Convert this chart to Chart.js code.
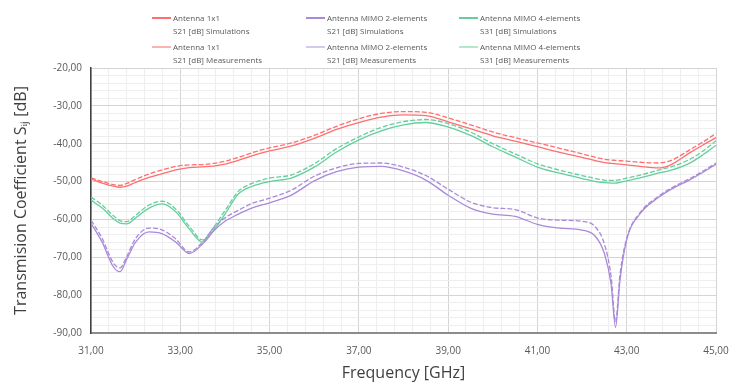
<!DOCTYPE html>
<html>
<head>
<meta charset="utf-8">
<script src="https://cdn.jsdelivr.net/npm/chart.js@4/dist/chart.umd.min.js"></script>
<style>
  body { margin: 0; background: #fff; }
  #wrap { position: relative; width: 731px; height: 383px; }
  #chart { position: absolute; left: 0; top: 0; }
  .leg { position: absolute; font: 8px "Open Sans", sans-serif; color: #595959; line-height: 12.5px; white-space: nowrap; }
  .leg .ln { position: absolute; left: -21px; top: 5px; width: 19px; height: 2px; }
</style>
</head>
<body>
<div id="wrap">
  <canvas id="chart" width="731" height="383"></canvas>
</div>
<script>
// frequency points (GHz)
var freq = [31.0, 31.25, 31.5, 31.65, 31.8, 32.0, 32.3, 32.6, 32.9, 33.2, 33.5, 33.75, 34.0, 34.3, 34.6,
    35.0, 35.5, 36.0, 36.5, 37.0, 37.5, 38.0, 38.5, 39.0, 39.5, 40.0, 40.5, 41.0, 41.5, 42.0,
    42.3, 42.5, 42.65, 42.75, 42.85, 43.0, 43.3, 43.7, 44.0, 44.4, 44.7, 45.0];

// Antenna 1x1 - S21 [dB]
var s21x1Sim = [-49.3, -50.4, -51.2, -51.5, -51.2, -50.2, -48.9, -47.9, -46.9, -46.3, -46.1, -45.9, -45.4, -44.4, -43.2,
    -41.9, -40.6, -38.6, -36.2, -34.4, -33.0, -32.4, -32.6, -34.2, -36.0, -37.9, -39.3, -40.8, -42.3, -43.6,
    -44.5, -45.0, -45.2, -45.3, -45.4, -45.6, -46.0, -46.4, -45.5, -42.5, -40.4, -38.4];
var s21x1Meas = [-49.0, -50.0, -50.8, -51.0, -50.5, -49.4, -48.0, -46.9, -46.0, -45.6, -45.5, -45.2, -44.6, -43.6, -42.4,
    -41.1, -39.8, -37.8, -35.4, -33.4, -32.0, -31.5, -31.7, -33.2, -35.0, -36.9, -38.4, -39.8, -41.2, -42.7,
    -43.6, -44.1, -44.3, -44.4, -44.5, -44.6, -44.9, -45.1, -44.4, -41.7, -39.6, -37.3];

// Antenna MIMO 2-elements - S21 [dB]
var s21m2Sim = [-61.0, -66.0, -72.5, -73.8, -70.5, -66.0, -63.3, -63.8, -66.0, -69.0, -66.5, -63.0, -60.5, -58.6, -57.0,
    -55.6, -53.5, -49.8, -47.4, -46.2, -46.0, -47.2, -49.6, -53.6, -57.0, -58.6, -59.2, -61.3, -62.3, -62.8,
    -64.5, -69.0, -77.0, -88.5, -76.0, -65.4, -58.5, -54.3, -52.0, -49.6, -47.6, -45.4];
var s21m2Meas = [-60.2, -65.0, -71.5, -72.8, -69.8, -65.0, -62.3, -62.8, -65.2, -68.6, -66.0, -62.2, -59.6, -57.6, -55.8,
    -54.4, -52.2, -48.6, -46.4, -45.2, -45.1, -46.2, -48.4, -52.0, -55.4, -56.9, -57.4, -59.6, -60.2, -60.5,
    -62.0, -66.5, -75.0, -87.0, -74.5, -65.0, -58.2, -54.0, -51.7, -49.3, -47.3, -45.1];

// Antenna MIMO 4-elements - S31 [dB]
var s31m4Sim = [-54.9, -57.0, -59.8, -61.0, -61.2, -59.6, -57.0, -55.9, -58.0, -62.5, -66.0, -62.8, -58.6, -53.3, -51.3,
    -50.0, -49.0, -46.2, -42.2, -39.0, -36.6, -35.0, -34.4, -35.6, -37.8, -40.8, -43.5, -46.2, -47.8, -49.2,
    -50.0, -50.3, -50.4, -50.4, -50.2, -49.8, -49.0, -47.8, -47.0, -45.2, -43.0, -40.4];
var s31m4Meas = [-54.1, -56.2, -59.0, -60.3, -60.6, -58.9, -56.2, -55.2, -57.3, -61.8, -65.4, -62.0, -57.7, -52.6, -50.5,
    -49.1, -48.2, -45.3, -41.3, -38.2, -35.7, -34.2, -33.6, -34.7, -36.9, -40.0, -42.7, -45.3, -47.0, -48.4,
    -49.2, -49.6, -49.7, -49.7, -49.5, -49.1, -48.3, -47.0, -46.1, -44.2, -42.0, -39.2];

var legendNames = [
    ['Antenna 1x1', 'S21 [dB] Simulations'],
    ['Antenna MIMO 2-elements', 'S21 [dB] Simulations'],
    ['Antenna MIMO 4-elements', 'S31 [dB] Simulations'],
    ['Antenna 1x1', 'S21 [dB] Measurements'],
    ['Antenna MIMO 2-elements', 'S21 [dB] Measurements'],
    ['Antenna MIMO 4-elements', 'S31 [dB] Measurements']
];

function points(values) {
    return freq.map(function (f, i) { return { x: f, y: values[i] }; });
}

function isMajor(v, step, start) {
    var r = (v - start) / step;
    return Math.abs(r - Math.round(r)) < 1e-6;
}

function dbLabel(v) {
    return v.toFixed(2).replace('.', ',');
}

var red = '#ff6f6f', purple = '#a98ad9', green = '#63cf9c';

function series(label, values, color, dashed) {
    return {
        label: label,
        data: points(values),
        borderColor: color,
        borderWidth: 1.3,
        borderDash: dashed ? [5, 2] : [],
        pointRadius: 0,
        cubicInterpolationMode: 'monotone',
        fill: false
    };
}

var ctx = document.getElementById('chart').getContext('2d');
new Chart(ctx, {
    type: 'line',
    data: {
        datasets: [
            series('Antenna 1x1 S21 Simulations', s21x1Sim, red, false),
            series('Antenna 1x1 S21 Measurements', s21x1Meas, red, true),
            series('Antenna MIMO 2-elements S21 Simulations', s21m2Sim, purple, false),
            series('Antenna MIMO 2-elements S21 Measurements', s21m2Meas, purple, true),
            series('Antenna MIMO 4-elements S31 Simulations', s31m4Sim, green, false),
            series('Antenna MIMO 4-elements S31 Measurements', s31m4Meas, green, true)
        ]
    },
    options: {
        responsive: false,
        animation: false,
        layout: { padding: { left: 0, top: 68, right: 15, bottom: 0 } },
        plugins: {
            legend: { display: false },
            tooltip: { enabled: false }
        },
        scales: {
            x: {
                type: 'linear',
                min: 31,
                max: 45,
                afterFit: function (scale) {
                    scale.height = 50;
                    scale.paddingLeft = 0;
                    scale.paddingRight = 0;
                },
                ticks: {
                    stepSize: 0.4,
                    autoSkip: false,
                    maxRotation: 0,
                    padding: 12,
                    color: '#595959',
                    font: { family: 'Open Sans', size: 10 },
                    callback: function (v) { return isMajor(v, 2, 31) ? dbLabel(v) : ''; }
                },
                grid: {
                    drawTicks: false,
                    color: function (c) { return isMajor(c.tick.value, 2, 31) ? '#d4d4d4' : '#eeeeee'; }
                },
                border: { color: '#8c8c8c', width: 2 },
                title: {
                    display: true,
                    text: 'Frequency [GHz]',
                    color: '#404040',
                    font: { family: 'Open Sans', size: 16 },
                    padding: { top: 0, bottom: 0 }
                }
            },
            y: {
                min: -90,
                max: -20,
                afterFit: function (scale) { scale.width = 91; },
                ticks: {
                    stepSize: 2,
                    autoSkip: false,
                    padding: 9,
                    color: '#595959',
                    font: { family: 'Open Sans', size: 10 },
                    callback: function (v) { return isMajor(v, 10, -90) ? dbLabel(v) : ''; }
                },
                grid: {
                    drawTicks: false,
                    color: function (c) { return isMajor(c.tick.value, 10, -90) ? '#d4d4d4' : '#eeeeee'; }
                },
                border: { color: '#404040', width: 1.5 },
                title: {
                    display: true,
                    text: 'Transmision Coefficient S\u1D62\u2C7C [dB]',
                    color: '#404040',
                    font: { family: 'Open Sans', size: 16 },
                    padding: { top: 12, bottom: 0 }
                }
            }
        }
    }
});

// legend: three columns, simulations on the first row, measurements on the second
var legendX = [173, 327, 480];
var legendY = [12, 41];
var legendColors = [red, purple, green];
var legendLight = ['#fbb4b4', '#d6c9ee', '#b3e8cd'];
var wrap = document.getElementById('wrap');
legendNames.forEach(function (name, i) {
    var col = i % 3, row = Math.floor(i / 3);
    var d = document.createElement('div');
    d.className = 'leg';
    d.style.left = legendX[col] + 'px';
    d.style.top = legendY[row] + 'px';
    d.innerHTML = '<span class="ln" style="background:' + (row === 0 ? legendColors[col] : legendLight[col]) +
        '"></span>' + name[0] + '<br>' + name[1];
    wrap.appendChild(d);
});
</script>
</body>
</html>
